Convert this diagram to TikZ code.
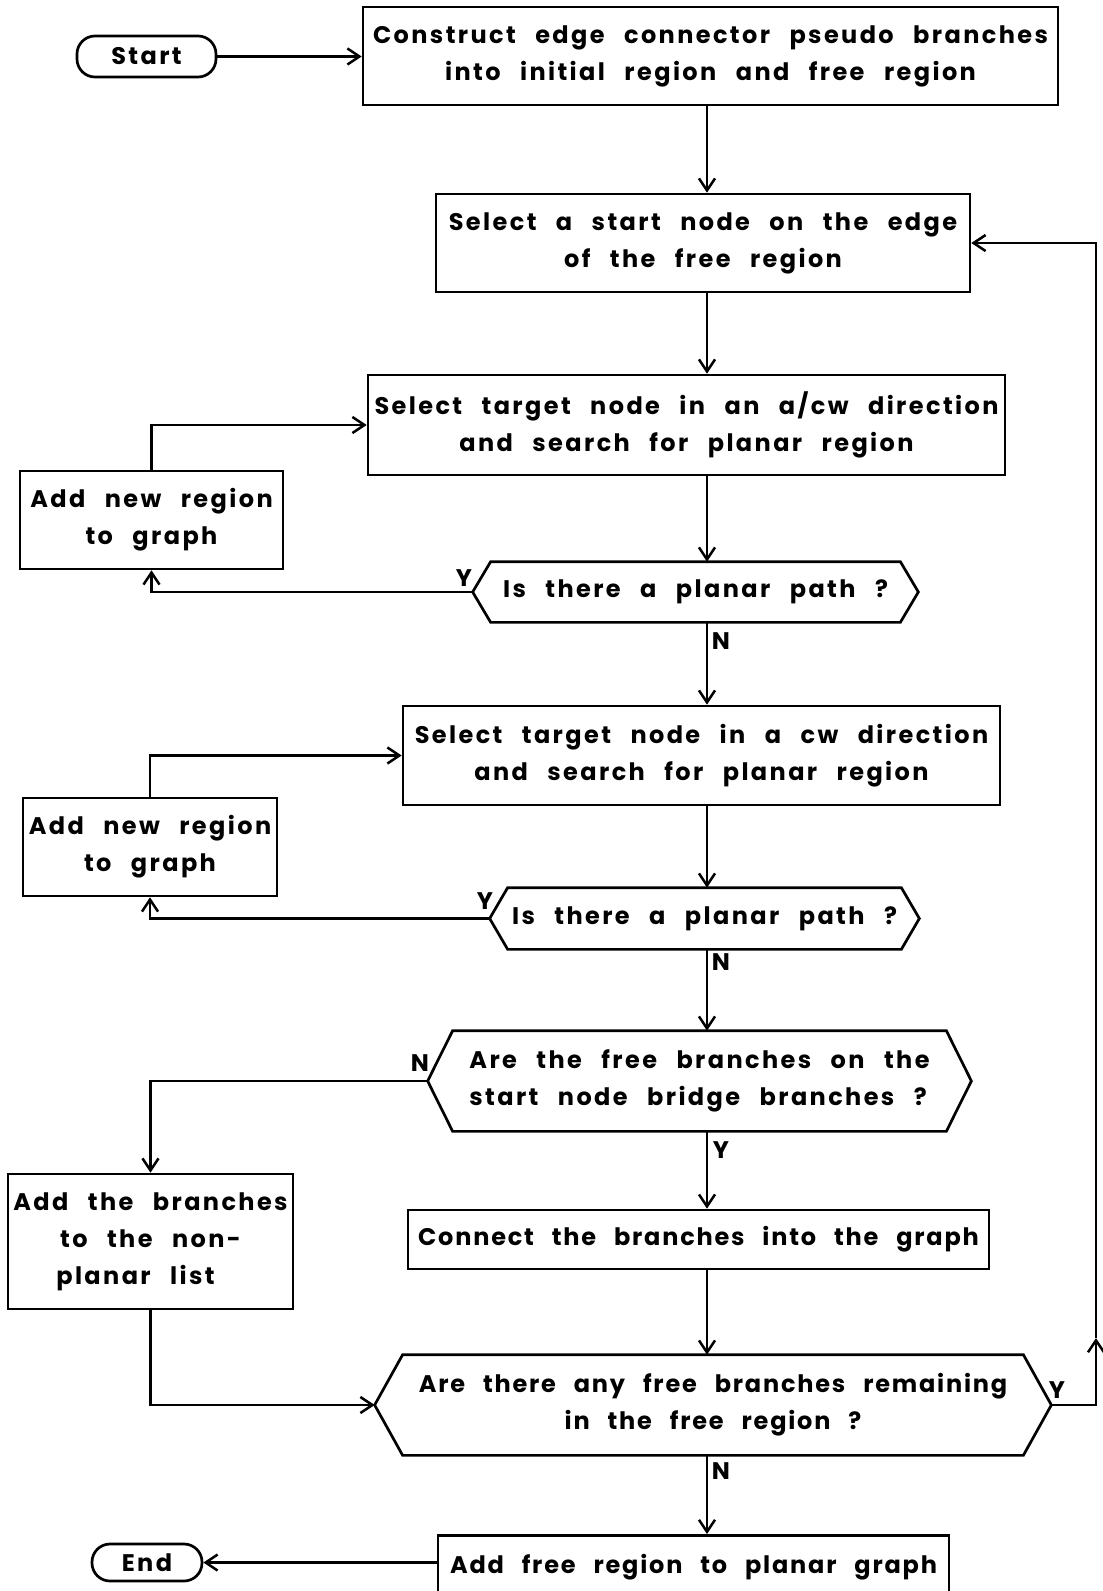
\documentclass[tikz,border=0pt]{standalone}
\usepackage{fontspec}
\setmainfont{Poppins}[LetterSpace=10,WordSpace=2.6]
\usetikzlibrary{arrows.meta}
% hexagonal decision outline around a (rectangular) node, #2 = slant inset
\newcommand\hexline[2]{%
  \draw (#1.west) -- ([xshift=#2]#1.north west) -- ([xshift=-#2]#1.north east)
    -- (#1.east) -- ([xshift=-#2]#1.south east) -- ([xshift=#2]#1.south west) -- cycle;}
\begin{document}
\begin{tikzpicture}[x=1pt,y=-1pt,
  line width=2.7pt,
  font=\fontsize{24}{37}\selectfont\bfseries,
  arr/.style={-{Straight Barb[length=12pt,width=16pt,line width=2.5pt]}},
  box/.style={draw, rectangle, inner sep=0pt, align=center},
  tight/.style={font=\fontsize{24}{37}\selectfont\bfseries\addfontfeatures{LetterSpace=7.5}},
  pill/.style={draw, rectangle, rounded corners=18pt, inner sep=0pt},
  decision/.style={rectangle, inner sep=0pt, align=center},
  lbl/.style={inner sep=0pt}]
\useasboundingbox (0,0) rectangle (1103,1591);
\fill[white] (0,0) rectangle (1103,1591);

% terminals
\node[pill, minimum width=139pt, minimum height=41pt] (st) at (146.5,56.5) {Start};
\node[pill, minimum width=110pt, minimum height=37pt] (en) at (147,1562.5) {End};

% process boxes
\node[box, minimum width=695pt, minimum height=98pt] (b1) at (710.5,56)
  {Construct edge connector pseudo branches\\into initial region and free region};
\node[box, minimum width=534pt, minimum height=98pt] (b2) at (703,243)
  {Select a start node on the edge\\of the free region};
\node[box, minimum width=637pt, minimum height=100pt] (b3) at (686.5,425)
  {Select target node in an a/cw direction\\and search for planar region};
\node[box, minimum width=263pt, minimum height=98pt] (A) at (151.5,520)
  {Add new region\\to graph};
\node[box, minimum width=597pt, minimum height=99pt] (b4) at (701.5,755.5)
  {Select target node in a cw direction\\and search for planar region};
\node[box, minimum width=254pt, minimum height=98pt] (B) at (150,847)
  {Add new region\\to graph};
\node[box, minimum width=285pt, minimum height=135pt] (C) at (150.5,1241.5)
  {Add the branches\\to the non-\\planar list\hspace*{30pt}};
\node[box, tight, minimum width=581pt, minimum height=59pt] (D) at (698.5,1239.5)
  {Connect the branches into the graph};
\node[box, tight, anchor=north, minimum width=511pt, text height=38pt, text depth=60pt] (E) at (693.5,1534)
  {Add free region to planar graph};

% decisions
\node[decision, minimum width=443pt, minimum height=58pt] (h1) at (695.5,592)
  {Is there a planar path ?};
\hexline{h1}{18pt}
\node[decision, minimum width=427pt, minimum height=59pt] (h2) at (704.5,918.5)
  {Is there a planar path ?};
\hexline{h2}{18pt}
\node[decision, align=left, minimum width=541pt, minimum height=98pt] (h3) at (699.5,1081)
  {Are the free branches on the\\start node bridge branches ?};
\hexline{h3}{25pt}
\node[decision, tight, minimum width=674pt, minimum height=98pt] (h4) at (713,1405)
  {Are there any free branches remaining\\in the free region ?};
\hexline{h4}{28pt}

% branch labels
\node[lbl] (y1) at (464,578) {Y};
\node[lbl] (n1) at (721,641) {N};
\node[lbl] (y2) at (485,901) {Y};
\node[lbl] (n2) at (721,962) {N};
\node[lbl] (n3) at (420,1063) {N};
\node[lbl] (y3) at (721,1150) {Y};
\node[lbl] (y4) at (1057,1390) {Y};
\node[lbl] (n4) at (721,1471) {N};

% helper coordinates for the main spine and the return line
\coordinate (spine) at (707,0);
\coordinate (ra) at (1096,1338);

% connectors
\draw[arr] (st.east) -- (st.east -| b1.west);
\draw[arr] (b1.south -| spine) -- (b2.north -| spine);
\draw[arr] (b2.south -| spine) -- (b3.north -| spine);
\draw[arr] (b3.south -| spine) -- (h1.north -| spine);
\draw[arr] (h1.west) -| (A.south);
\draw[arr] (A.north) |- (b3.west);
\draw[arr] (h1.south -| spine) -- (b4.north -| spine);
\draw[arr] (b4.south -| spine) -- (h2.north -| spine);
\draw[arr] (h2.west) -| (B.south);
\draw[arr] (B.north) |- (b4.west);
\draw[arr] (h2.south -| spine) -- (h3.north -| spine);
\draw[arr] (h3.west) -| (C.north);
\draw[arr] (h3.south -| spine) -- (D.north -| spine);
\draw[arr] (D.south -| spine) -- (h4.north -| spine);
\draw[arr] (C.south) |- (h4.west);
\draw[arr] (h4.east) -| (ra);
\draw[arr] (ra) |- (b2.east);
\draw[arr] (h4.south -| spine) -- (E.north -| spine);
\draw[arr] (E.west |- en.east) -- (en.east);
\end{tikzpicture}
\end{document}
